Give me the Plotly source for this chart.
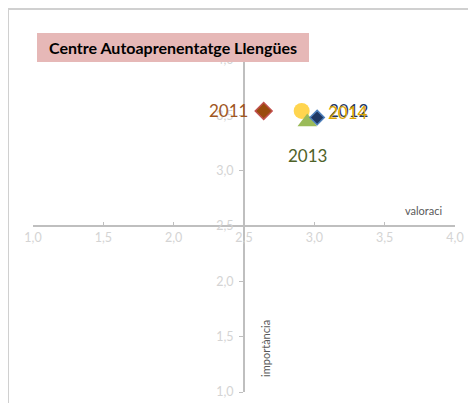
import plotly.graph_objects as go

# ---- data ----
years = ["2011", "2012", "2013", "2014"]
valoracio = [2.64, 3.02, 2.95, 2.91]
importancia = [3.54, 3.48, 3.44, 3.54]
x_ticks = [1.0, 1.5, 2.0, 2.5, 3.0, 3.5, 4.0]
y_ticks = [1.0, 1.5, 2.0, 2.5, 3.0, 3.5, 4.0]
title_text = "Centre Autoaprenentatge Llengües"
x_title = "valoraci"
y_title = "importància"

# ---- styles ----
FONT = "Lato"
W, H = 468, 395          # page body has an 8px margin
L, R, T, B = 25, 21, 52, 4
PW, PH = W - L - R, H - T - B

styles = {
    "2011": dict(symbol="diamond", size=13, color="#9a4a0c", line="#c0504d", lw=1.5, tc="#a0561e"),
    "2012": dict(symbol="diamond", size=11, color="#1f3864", line="#4f81bd", lw=1.5, tc="#1f3864"),
    "2013": dict(symbol="triangle-up", size=17, color="#9bbb59", line="#9bbb59", lw=0, tc="#4f6228"),
    "2014": dict(symbol="circle", size=16, color="#ffd54f", line="#ffd54f", lw=0, tc="#d9a400"),
}
label_pos = {
    "2011": dict(xanchor="right", yanchor="middle", xshift=-14, yshift=0),
    "2012": dict(xanchor="left", yanchor="middle", xshift=10, yshift=7),
    "2013": dict(xanchor="center", yanchor="middle", xshift=0, yshift=-34),
    "2014": dict(xanchor="left", yanchor="middle", xshift=24, yshift=-2),
}
draw_order = ["2014", "2011", "2013", "2012"]

xr = [1, 4]
yr = [1, 4]


def px_x(p):
    return (p - L) / PW


def px_y(p):
    return (H - B - p) / PH


fig = go.Figure()
for yv in draw_order:
    i = years.index(yv)
    s = styles[yv]
    fig.add_trace(go.Scatter(
        x=[valoracio[i]], y=[importancia[i]], mode="markers", name=yv,
        marker=dict(symbol=s["symbol"], size=s["size"], color=s["color"],
                    line=dict(color=s["line"], width=s["lw"])),
        showlegend=False, hoverinfo="skip", cliponaxis=False))

annotations = []
for i, yv in enumerate(years):
    lp = label_pos[yv]
    annotations.append(dict(x=valoracio[i], y=importancia[i], xref="x", yref="y",
                            text=yv, showarrow=False,
                            font=dict(family=FONT, size=17, color=styles[yv]["tc"]),
                            **lp))

annotations.append(dict(x=px_x(29), y=px_y(39.5), xref="paper", yref="paper",
                        xanchor="left", yanchor="middle", showarrow=False,
                        text="<b>" + title_text + "</b>", width=272, height=29,
                        bgcolor="#e6b8b7", borderpad=0, borderwidth=0, align="center",
                        font=dict(family=FONT, size=16, color="#000000")))
annotations.append(dict(x=px_x(415), y=px_y(206), xref="paper", yref="paper",
                        text=x_title, showarrow=False, xanchor="center", yanchor="middle",
                        font=dict(family=FONT, size=11, color="#595959")))
annotations.append(dict(x=px_x(258), y=px_y(347), xref="paper", yref="paper",
                        text=y_title, showarrow=False, textangle=-90, xanchor="center",
                        yanchor="middle", font=dict(family=FONT, size=11, color="#595959")))

axis_common = dict(showgrid=False, zeroline=False, showline=True, linecolor="#bfbfbf",
                   linewidth=2, tickcolor="#bfbfbf", tickformat=".1f",
                   ticklabeloverflow="allow",
                   tickfont=dict(family=FONT, size=12.5, color="#d4d4d4"))

fig.update_layout(
    width=W, height=H,
    margin=dict(l=L, r=R, t=T, b=B),
    paper_bgcolor="white", plot_bgcolor="white",
    separators=", ",
    xaxis=dict(range=xr, tickvals=x_ticks, anchor="free",
               position=(2.5 - yr[0]) / (yr[1] - yr[0]),
               ticks="inside", ticklen=3, **axis_common),
    yaxis=dict(range=yr, tickvals=y_ticks, anchor="free",
               position=(2.5 - xr[0]) / (xr[1] - xr[0]),
               ticks="outside", ticklen=4, ticklabelstandoff=3, **axis_common),
    annotations=annotations,
    shapes=[dict(type="rect", xref="paper", yref="paper",
                 x0=px_x(0), x1=1.3, y0=-0.2, y1=px_y(0),
                 line=dict(color="#d0d0d0", width=2), fillcolor="rgba(0,0,0,0)")],
)

fig.write_html("out.html")
